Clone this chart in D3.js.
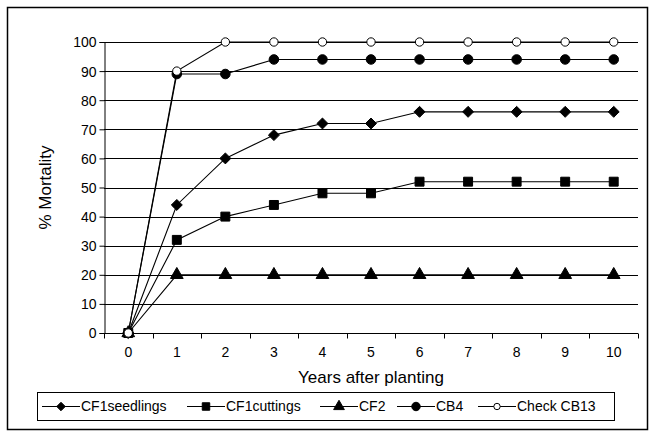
<!DOCTYPE html>
<html><head><meta charset="utf-8">
<script src="https://cdn.jsdelivr.net/npm/d3@7"></script>
<style>body{margin:0;background:#fff}svg{display:block}text{font-family:"Liberation Sans",Arial,sans-serif;fill:#000}</style>
</head><body><svg id="c" width="652" height="433"></svg>
<script>
const years = [0,1,2,3,4,5,6,7,8,9,10];
const yTicks = [0,10,20,30,40,50,60,70,80,90,100];
const seriesNames = ["CF1seedlings","CF1cuttings","CF2","CB4","Check CB13"];
const cf1seedlings = [0,44,60,68,72,72,76,76,76,76,76];
const cf1cuttings = [0,32,40,44,48,48,52,52,52,52,52];
const cf2 = [0,20,20,20,20,20,20,20,20,20,20];
const cb4 = [0,89,89,94,94,94,94,94,94,94,94];
const checkCB13 = [0,90,100,100,100,100,100,100,100,100,100];
const seriesValues = [cf1seedlings, cf1cuttings, cf2, cb4, checkCB13];

const wideDiamond = {draw(ctx,size){const r=Math.sqrt(size/2);ctx.moveTo(0,-r);ctx.lineTo(r,0);ctx.lineTo(0,r);ctx.lineTo(-r,0);ctx.closePath();}};
const symbols = [wideDiamond, d3.symbolSquare, d3.symbolTriangle, d3.symbolCircle, d3.symbolCircle];
const symSizes = [60, 80, 70, 72, 55];
const legSizes = [36, 56, 50, 56, 32];
const filled = [true,true,true,true,false];

const svg = d3.select("#c");
svg.append("rect").attr("x",7.5).attr("y",7.5).attr("width",640).attr("height",422)
  .attr("fill","#fff").attr("stroke","#000").attr("stroke-width",1.5);

const L=104, R=638, T=42, B=333;
const x = d3.scaleBand().domain(years).range([L,R]);
const y = d3.scaleLinear().domain([0,100]).range([B,T]);

// gridlines
svg.append("g").selectAll("line").data(yTicks.filter(d=>d>0)).join("line")
  .attr("x1",L).attr("x2",R).attr("y1",d=>Math.round(y(d))+0.5).attr("y2",d=>Math.round(y(d))+0.5)
  .attr("stroke","#000").attr("stroke-width",1);

// y axis
const ya = svg.append("g").attr("transform",`translate(${L+0.5},0)`)
  .call(d3.axisLeft(y).tickValues(yTicks).tickSize(5).tickPadding(3));
ya.select(".domain").attr("stroke","#000");
ya.selectAll("text").style("font-size","14px").attr("dy","0.35em");
ya.selectAll(".tick line").attr("stroke","#000");

// x axis
const xa = svg.append("g").attr("transform",`translate(0,${B+0.5})`)
  .call(d3.axisBottom(x).tickSize(0).tickPadding(14));
xa.select(".domain").attr("d",`M${L},0H${R}`).attr("stroke","#000");
xa.selectAll("text").style("font-size","14px");
const bounds = years.map(d=>x(d)).concat([R]);
xa.selectAll(".bt").data(bounds).join("line").attr("class","bt")
  .attr("x1",d=>Math.round(d)+0.5).attr("x2",d=>Math.round(d)+0.5).attr("y1",0).attr("y2",5).attr("stroke","#000");

svg.append("text").attr("x",(L+R)/2).attr("y",383).attr("text-anchor","middle")
  .style("font-size","17px").text("Years after planting");
svg.append("text").attr("transform",`translate(51,${(T+B)/2}) rotate(-90)`).attr("text-anchor","middle")
  .style("font-size","17px").text("% Mortality");

const line = d3.line().x((d,i)=>x(years[i])+x.bandwidth()/2).y(d=>y(d));
seriesValues.forEach((vals,k)=>{
  svg.append("path").datum(vals).attr("d",line).attr("fill","none").attr("stroke","#000").attr("stroke-width",1.1);
});
seriesValues.forEach((vals,k)=>{
  svg.append("g").selectAll("path").data(vals).join("path")
    .attr("transform",(d,i)=>`translate(${x(years[i])+x.bandwidth()/2},${y(d)})`)
    .attr("d",d3.symbol(symbols[k],symSizes[k]))
    .attr("fill",filled[k]?"#000":"#fff").attr("stroke","#000").attr("stroke-width",1);
});

// legend
const lg = svg.append("g");
lg.append("rect").attr("x",37.5).attr("y",392.5).attr("width",577).attr("height",28)
  .attr("fill","#fff").attr("stroke","#000");
const legX = [42, 187, 320, 397, 478];
const ly = 406.5;
seriesNames.forEach((n,k)=>{
  const g = lg.append("g").attr("transform",`translate(${legX[k]},0)`);
  g.append("line").attr("x1",0).attr("x2",38).attr("y1",ly).attr("y2",ly).attr("stroke","#000").attr("stroke-width",1.1);
  g.append("path").attr("transform",`translate(19,${ly})`)
    .attr("d",d3.symbol(symbols[k], legSizes[k]))
    .attr("fill",filled[k]?"#000":"#fff").attr("stroke","#000");
  g.append("text").attr("x",39).attr("y",ly).attr("dy","0.35em").style("font-size","14px").text(n);
});
</script></body></html>
